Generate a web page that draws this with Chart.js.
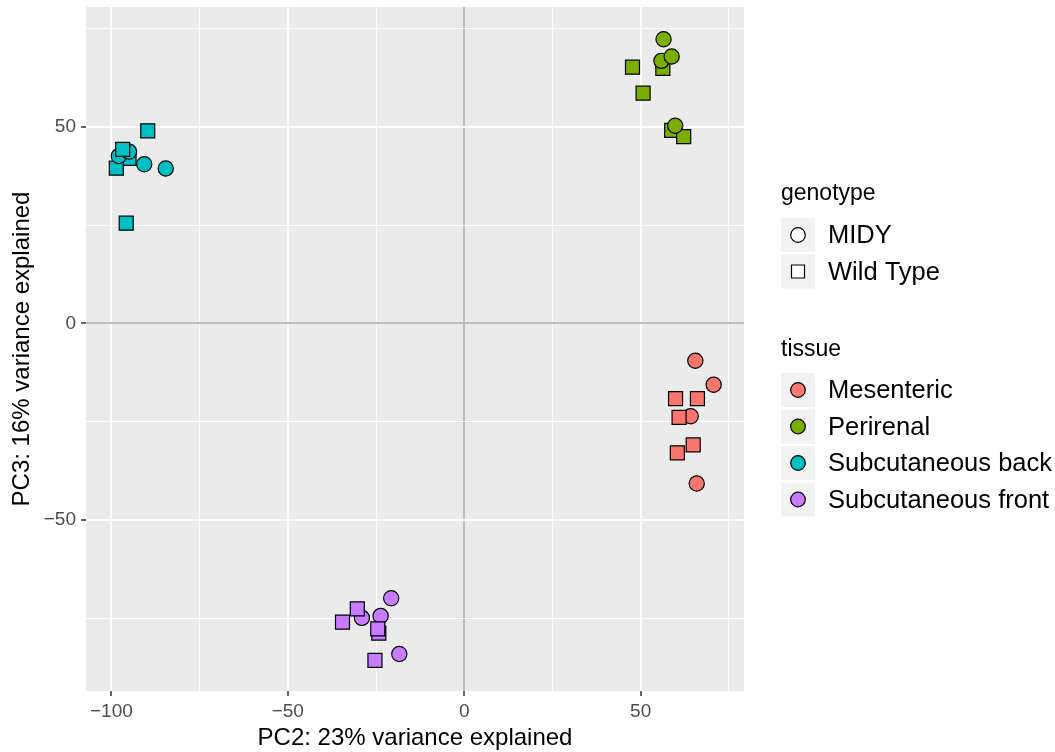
<!DOCTYPE html>
<html>
<head>
<meta charset="utf-8">
<script src="https://cdn.jsdelivr.net/npm/chart.js@4"></script>
<style>
  body { margin: 0; background: #fff; }
  #wrap { width: 1055px; height: 752px; }
</style>
</head>
<body>
<div id="wrap"><canvas id="pca"></canvas></div>
<script>
// PCA scores, one set of arrays per tissue (draw order kept)
const tissues = ["Mesenteric", "Perirenal", "Subcutaneous back", "Subcutaneous front"];
const genotypes = ["MIDY", "Wild Type"];
const tissueColors = ["#F8766D", "#7CAE00", "#00BFC4", "#C77CFF"];

const mesPC2 = [65.5, 70.7, 64.2, 65.9, 59.9, 66.1, 60.9, 64.9, 60.4];
const mesPC3 = [-9.5, -15.6, -23.6, -40.7, -19.1, -19.1, -23.9, -30.9, -32.9];
const mesGeno = ["MIDY", "MIDY", "MIDY", "MIDY", "Wild Type", "Wild Type", "Wild Type", "Wild Type", "Wild Type"];

const periPC2 = [56.3, 47.7, 50.7, 58.8, 62.2, 56.5, 55.9, 58.8, 59.8];
const periPC3 = [64.9, 65.2, 58.6, 49.1, 47.5, 72.3, 66.8, 67.9, 50.3];
const periGeno = ["Wild Type", "Wild Type", "Wild Type", "Wild Type", "Wild Type", "MIDY", "MIDY", "MIDY", "MIDY"];

const backPC2 = [-95.0, -89.7, -98.6, -95.8, -97.9, -95.0, -90.7, -84.6, -96.8];
const backPC3 = [42.0, 49.0, 39.5, 25.5, 42.6, 43.7, 40.5, 39.4, 44.3];
const backGeno = ["Wild Type", "Wild Type", "Wild Type", "Wild Type", "MIDY", "MIDY", "MIDY", "MIDY", "Wild Type"];

const frontPC2 = [-20.7, -29.0, -23.7, -18.4, -30.3, -34.5, -24.2, -24.5, -25.3];
const frontPC3 = [-69.9, -74.9, -74.4, -84.1, -72.6, -76.0, -78.8, -77.7, -85.7];
const frontGeno = ["MIDY", "MIDY", "MIDY", "MIDY", "Wild Type", "Wild Type", "Wild Type", "Wild Type", "Wild Type"];

const xTicks = [-100, -75, -50, -25, 0, 25, 50, 75];
const yTicks = [-75, -50, -25, 0, 25, 50, 75];
const xMajor = [-100, -50, 0, 50];
const yMajor = [-50, 0, 50];

const FONT = "'Liberation Sans', Arial, Helvetica, sans-serif";

//------------------------------------------

function makeSet(i, xs, ys, geno) {
  return {
    label: tissues[i],
    data: xs.map((x, k) => ({x: x, y: ys[k]})),
    backgroundColor: tissueColors[i],
    borderColor: "#000",
    borderWidth: 1.2,
    pointStyle: geno.map(g => g === "MIDY" ? "circle" : "rect"),
    pointRadius: geno.map(g => g === "MIDY" ? 7.6 : 9.9),
    pointHoverRadius: geno.map(g => g === "MIDY" ? 7.6 : 9.9),
  };
}

const data = {
  datasets: [
    makeSet(0, mesPC2, mesPC3, mesGeno),
    makeSet(1, periPC2, periPC3, periGeno),
    makeSet(2, backPC2, backPC3, backGeno),
    makeSet(3, frontPC2, frontPC3, frontGeno),
  ]
};

const minus = v => v < 0 ? "\u2212" + Math.abs(v) : String(v);

//panel background
const panel = {
  id: "panel",
  beforeDraw(chart) {
    const {ctx, chartArea: {left, top, width, height}} = chart;
    ctx.save();
    ctx.fillStyle = "#EBEBEB";
    ctx.fillRect(left, top, width, height);
    ctx.restore();
  }
};

//ggplot style legend
const ggLegend = {
  id: "ggLegend",
  afterDraw(chart) {
    const ctx = chart.ctx;
    const x0 = 781, keyW = 34, keyH = 34, step = 36.5;
    ctx.save();
    ctx.textBaseline = "middle";
    ctx.textAlign = "left";

    ctx.fillStyle = "#000";
    ctx.font = "23px " + FONT;
    ctx.fillText("genotype", x0, 194);
    ctx.font = "25.5px " + FONT;
    genotypes.forEach((g, k) => {
      const cy = 235 + k * step;
      ctx.fillStyle = "#F2F2F2";
      ctx.fillRect(x0, cy - keyH / 2, keyW, keyH);
      ctx.strokeStyle = "#000";
      ctx.lineWidth = 1.2;
      ctx.fillStyle = "#fff";
      ctx.beginPath();
      if (g === "MIDY") ctx.arc(x0 + keyW / 2, cy, 7.3, 0, Math.PI * 2);
      else ctx.rect(x0 + keyW / 2 - 6.5, cy - 6.5, 13, 13);
      ctx.fill();
      ctx.stroke();
      ctx.fillStyle = "#000";
      ctx.fillText(g, 828, cy + 1);
    });

    ctx.font = "23px " + FONT;
    ctx.fillText("tissue", x0, 350);
    ctx.font = "25.5px " + FONT;
    tissues.forEach((t, k) => {
      const cy = 390 + k * step;
      ctx.fillStyle = "#F2F2F2";
      ctx.fillRect(x0, cy - keyH / 2, keyW, keyH);
      ctx.strokeStyle = "#000";
      ctx.lineWidth = 1.2;
      ctx.fillStyle = tissueColors[k];
      ctx.beginPath();
      ctx.arc(x0 + keyW / 2, cy, 7.3, 0, Math.PI * 2);
      ctx.fill();
      ctx.stroke();
      ctx.fillStyle = "#000";
      ctx.fillText(t, 828, cy + 1);
    });
    ctx.restore();
  }
};

//------------------------------------------

const gridOpts = (major) => ({
  color: c => c.tick && c.tick.value === 0 ? "#BDBDBD" : "#FFFFFF",
  lineWidth: c => c.tick && major.includes(c.tick.value) ? 2 : 1,
  tickColor: c => c.tick && major.includes(c.tick.value) ? "#333333" : "rgba(0,0,0,0)",
  tickLength: 5,
  tickWidth: 1.5,
  drawOnChartArea: true,
});

const config = {
  type: "scatter",
  data: data,
  options: {
    responsive: true,
    maintainAspectRatio: false,
    animation: false,
    events: [],
    layout: {autoPadding: false, padding: {top: 7, right: 311, left: 0, bottom: 0}},
    plugins: {
      legend: {display: false},
      tooltip: {enabled: false},
    },
    scales: {
      x: {
        type: "linear",
        min: -107.2,
        max: 79.3,
        border: {display: false},
        grid: gridOpts(xMajor),
        afterBuildTicks: s => { s.ticks = xTicks.map(v => ({value: v})); },
        afterFit: s => { s.height = 61; s.paddingLeft = 0; s.paddingRight = 0; },
        ticks: {
          autoSkip: false,
          maxRotation: 0,
          padding: 4,
          color: "#4D4D4D",
          font: {family: FONT, size: 19},
          callback: v => xMajor.includes(v) ? minus(v) : "",
        },
        title: {
          display: true,
          text: "PC2: 23% variance explained",
          color: "#000",
          font: {family: FONT, size: 24, lineHeight: "28px"},
          padding: 0,
        },
      },
      y: {
        type: "linear",
        min: -93.5,
        max: 80.5,
        border: {display: false},
        grid: gridOpts(yMajor),
        afterBuildTicks: s => { s.ticks = yTicks.map(v => ({value: v})); },
        afterFit: s => { s.width = 86; s.paddingTop = 0; s.paddingBottom = 0; },
        ticks: {
          autoSkip: false,
          padding: 5,
          color: "#4D4D4D",
          font: {family: FONT, size: 19},
          callback: v => yMajor.includes(v) ? minus(v) : "",
        },
        title: {
          display: true,
          text: "PC3: 16% variance explained",
          color: "#000",
          font: {family: FONT, size: 24, lineHeight: "44px"},
          padding: 0,
        },
      },
    },
  },
  plugins: [panel, ggLegend],
};

const pca = new Chart(document.getElementById("pca"), config);
</script>
</body>
</html>
